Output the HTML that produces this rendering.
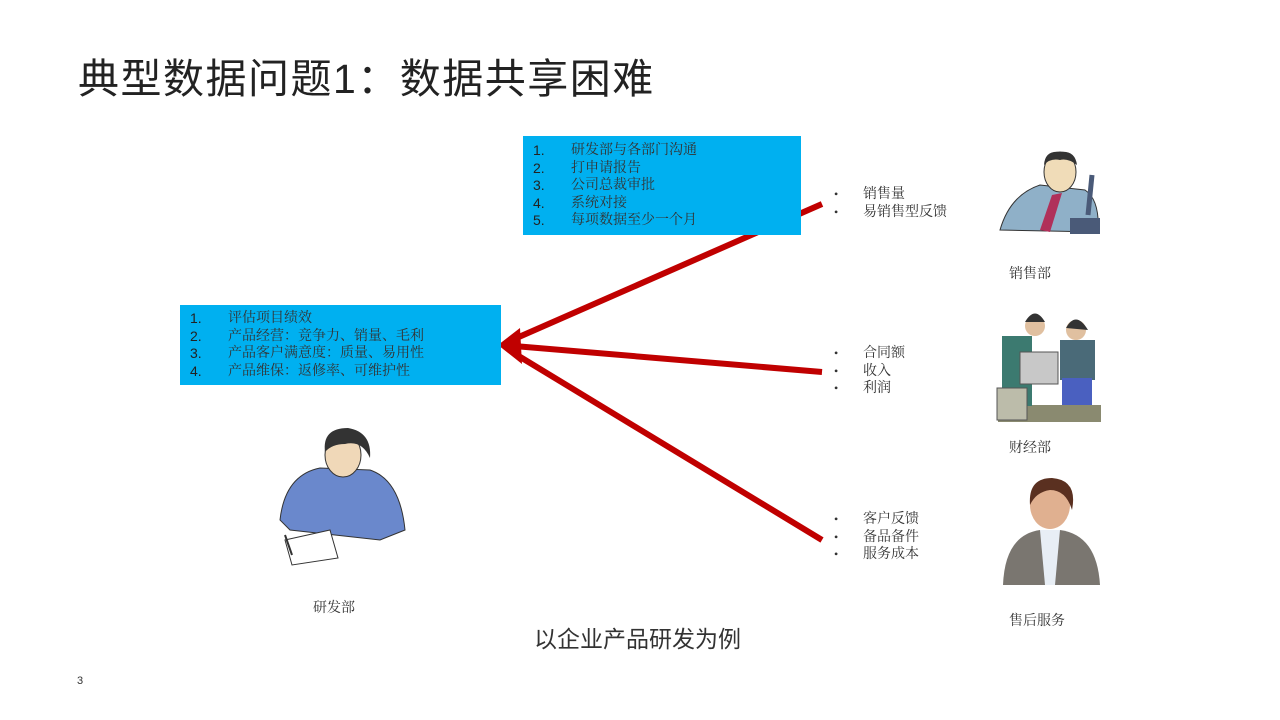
<!DOCTYPE html>
<html><head><meta charset="utf-8"><style>
body{margin:0;width:1280px;height:720px;background:#fff;position:relative;overflow:hidden;font-family:"Liberation Sans","Noto Sans CJK SC",sans-serif;color:#222}
.a{position:absolute;white-space:nowrap}
.box{position:absolute;background:#00b0f0;font-size:14px;line-height:17.5px;color:#333;font-family:"Liberation Serif","Noto Serif CJK SC",serif}
.box div{position:relative;padding-left:48px}
.box span{position:absolute;left:10px;font-size:14px;color:#222;font-family:"Liberation Sans",sans-serif}
.serif{font-family:"Liberation Serif","Noto Serif CJK SC",serif;font-size:14px;color:#333}
.bl{position:absolute;font-size:14px;line-height:17.5px;color:#333;font-family:"Liberation Serif","Noto Serif CJK SC",serif}
.bl div{position:relative;padding-left:29px}
.bl div:before{content:"•";position:absolute;left:0;font-size:12px}
</style></head><body>
<div class="a" style="left:78px;top:45px;font-size:41px;letter-spacing:1.5px;color:#222">典型数据问题1：数据共享困难</div>
<svg class="a" style="left:0;top:0" width="1280" height="720">
<g stroke="#c00000" stroke-width="6" fill="none">
<line x1="822" y1="204" x2="512" y2="340"/>
<line x1="822" y1="372" x2="514" y2="346"/>
<line x1="822" y1="540" x2="512" y2="352"/>
</g>
<polygon points="498,345 520,328 522,364" fill="#c00000"/>
<g>
<path d="M1000,230 Q1010,195 1040,185 L1085,190 Q1100,200 1098,232 Z" fill="#8fb0c8" stroke="#333"/>
<ellipse cx="1060" cy="172" rx="16" ry="20" fill="#f0dcb8" stroke="#333"/>
<path d="M1044,165 Q1045,150 1060,152 Q1075,150 1077,165 Q1068,158 1060,160 Q1050,158 1044,165Z" fill="#333"/>
<polygon points="1052,195 1062,193 1050,232 1040,230" fill="#b0305a"/>
<rect x="1070" y="218" width="30" height="16" fill="#4a5a78"/>
<line x1="1088" y1="215" x2="1092" y2="175" stroke="#4a5a78" stroke-width="5"/>
</g>
<g>
<rect x="998" y="405" width="103" height="17" fill="#8a8a70"/>
<rect x="1002" y="336" width="30" height="70" fill="#3c7a70"/>
<circle cx="1035" cy="326" r="10" fill="#e0c0a0"/><path d="M1025,322 Q1035,305 1045,322Z" fill="#333"/>
<rect x="1060" y="340" width="35" height="40" fill="#4a6a78"/>
<rect x="1062" y="378" width="30" height="27" fill="#4a60c0"/>
<circle cx="1076" cy="330" r="10" fill="#e0c0a0"/><path d="M1066,328 Q1076,310 1088,330Z" fill="#333"/>
<rect x="1020" y="352" width="38" height="32" fill="#c8c8c8" stroke="#555"/>
<rect x="997" y="388" width="30" height="32" fill="#bcbcaa" stroke="#555"/>
</g>
<g>
<path d="M1003,585 Q1005,535 1040,530 L1060,530 Q1097,535 1100,585Z" fill="#7a7670"/>
<polygon points="1040,530 1060,530 1055,585 1045,585" fill="#e8eef5"/>
<ellipse cx="1050" cy="505" rx="20" ry="24" fill="#e0b090"/>
<path d="M1030,505 Q1028,478 1052,478 Q1078,480 1072,510 Q1066,490 1050,490 Q1036,492 1030,505Z" fill="#5a3020"/>
</g>
<g>
<path d="M280,520 Q285,475 320,468 L370,470 Q400,480 405,530 L380,540 L290,530Z" fill="#6a88cc" stroke="#333"/>
<ellipse cx="343" cy="455" rx="18" ry="22" fill="#f0d8b8" stroke="#333"/>
<path d="M325,452 Q322,428 348,428 Q372,432 370,458 Q362,440 345,444 Q332,444 325,452Z" fill="#333"/>
<polygon points="285,540 330,530 338,558 292,565" fill="#fff" stroke="#333"/>
<line x1="285" y1="535" x2="292" y2="555" stroke="#333" stroke-width="2"/>
</g>
</svg>
<div class="box" style="left:523px;top:136px;width:278px;height:99px;padding-top:6px;box-sizing:border-box">
<div><span>1.</span>研发部与各部门沟通</div><div><span>2.</span>打申请报告</div><div><span>3.</span>公司总裁审批</div><div><span>4.</span>系统对接</div><div><span>5.</span>每项数据至少一个月</div></div>
<div class="box" style="left:180px;top:305px;width:321px;height:80px;padding-top:5px;box-sizing:border-box">
<div><span>1.</span>评估项目绩效</div><div><span>2.</span>产品经营：竞争力、销量、毛利</div><div><span>3.</span>产品客户满意度：质量、易用性</div><div><span>4.</span>产品维保：返修率、可维护性</div></div>
<div class="bl" style="left:834px;top:186px"><div>销售量</div><div>易销售型反馈</div></div>
<div class="bl" style="left:834px;top:345px"><div>合同额</div><div>收入</div><div>利润</div></div>
<div class="bl" style="left:834px;top:511px"><div>客户反馈</div><div>备品备件</div><div>服务成本</div></div>
<div class="a serif" style="left:1009px;top:263px">销售部</div>
<div class="a serif" style="left:1009px;top:437px">财经部</div>
<div class="a serif" style="left:1009px;top:610px">售后服务</div>
<div class="a serif" style="left:313px;top:597px">研发部</div>
<div class="a" style="left:534px;top:620px;font-size:23px;color:#333">以企业产品研发为例</div>
<div class="a" style="left:77px;top:675px;font-size:11px;color:#333">3</div>
</body></html>
